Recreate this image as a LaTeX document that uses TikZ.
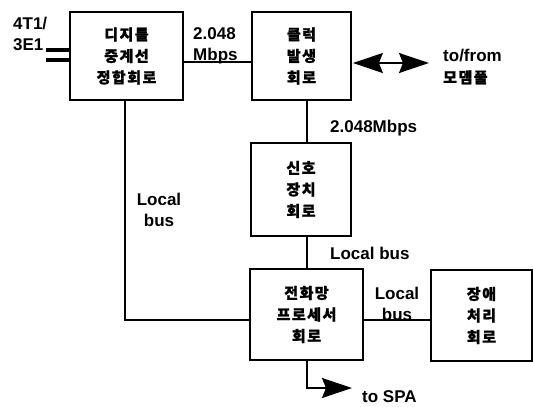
\documentclass[tikz,border=0pt]{standalone}
\usepackage{fontspec}
\setmainfont{Liberation Sans}
\newfontfamily\kr[LetterSpace=10,FakeBold=1.2]{Noto Sans CJK KR}
\usetikzlibrary{arrows.meta}
\tikzset{bighead/.tip={Stealth[length=30pt,width=20pt,inset=4pt]}}
\begin{document}
\begin{tikzpicture}[x=1pt,y=-1pt,
  box/.style={draw,line width=1.8pt,inner sep=0pt,align=center,
    font=\kr\bfseries\fontsize{15}{21.5}\selectfont},
  lbl/.style={inner sep=0pt,font=\bfseries\fontsize{17}{21}\selectfont},
  conn/.style={line width=1.8pt},
  big/.style={line width=1.8pt,bighead-bighead},
  bigr/.style={line width=1.8pt,-bighead}]
\useasboundingbox (0,0) rectangle (533,407);
% boxes
\node[box,minimum width=113pt,minimum height=88pt] (d1) at (126.5,56) {디지틀\\중계선\\정합회로};
\node[box,minimum width=99pt,minimum height=88pt] (d2) at (301.5,56) {클럭\\발생\\회로};
\node[box,minimum width=100pt,minimum height=93pt] (d3) at (301,189.5) {신호\\장치\\회로};
\node[box,minimum width=113pt,minimum height=91pt] (d4) at (306.5,314.5) {전화망\\프로세서\\회로};
\node[box,minimum width=101pt,minimum height=91pt] (d5) at (481.5,315.5) {장애\\처리\\회로};
% helper coordinates
\coordinate (vx) at (307,0);
\coordinate (hx) at (125,0);
\coordinate (in1) at (46,50);
\coordinate (in2) at (46,60);
\coordinate (mp) at (429,63);
\coordinate (spa) at (352,388);
% connectors
\draw[line width=3.5pt] (in1) -- (in1 -| d1.west);
\draw[line width=3.5pt] (in2) -- (in2 -| d1.west);
\draw[conn] ([yshift=-6pt]d1.east) -- ([yshift=-6pt]d1.east -| d2.west);
\draw[conn] (d2.south -| vx) -- (d3.north -| vx);
\draw[conn] (d3.south -| vx) -- (d4.north -| vx);
\draw[conn] (d1.south -| hx) |- ([yshift=-5.5pt]d4.west);
\draw[conn] ([yshift=-5.5pt]d4.east) -- ([yshift=-5.5pt]d4.east -| d5.west);
\draw[big] ([xshift=1pt,yshift=-7pt]d2.east) -- (mp);
\draw[bigr] (d4.south -| vx) |- (spa);
% labels
\node[lbl,align=left,anchor=west] (t1) at (13,34) {4T1/\\3E1};
\node[lbl,align=left,anchor=west] (t2) at (193,46) {2.048\\Mbps};
\node[lbl,align=left,anchor=west] (t3) at (443,67) {to/from\\{\kr\bfseries\fontsize{15}{21}\selectfont 모뎀풀}};
\node[lbl,anchor=west] (t4) at (330,128) {2.048Mbps};
\node[lbl,align=center] (t5) at (159,210) {Local\\bus};
\node[lbl,anchor=west] (t6) at (330,253) {Local bus};
\node[lbl,align=center] (t7) at (397,304) {Local\\bus};
\node[lbl,anchor=west] (t8) at (362,397) {to SPA};
\end{tikzpicture}
\end{document}
